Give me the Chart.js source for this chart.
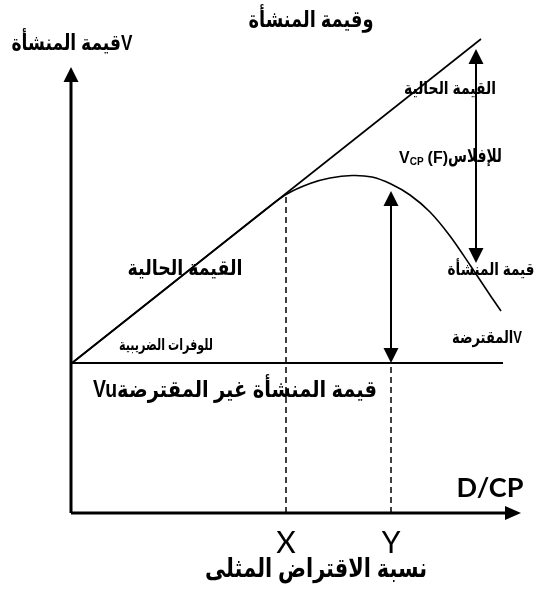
<!DOCTYPE html>
<html><head><meta charset="utf-8">
<script src="https://cdn.jsdelivr.net/npm/chart.js@4"></script>
<style>html,body{margin:0;padding:0;background:#fff}canvas{display:block}</style>
</head><body>
<canvas id="c" width="541" height="593"></canvas>
<script>
// ---- data (abstract units: x = D/CP, y = firm value) ----
const curveDCP   = [0.2, 20, 38.8, 43, 47.8, 51.8, 56.2, 60.2, 64, 67.8, 71.8, 75.8, 79.8, 83.8, 86];
const curveValue = [30, 45.7, 60.6, 63.7, 65.9, 67.0, 67.5, 67.2, 65.8, 63.6, 60.2, 55.4, 49.6, 43.6, 40.4];
const taxLineDCP   = [0.2, 82];
const taxLineValue = [30, 94.8];
const unleveredDCP   = [0.2, 86.4];
const unleveredValue = [30, 30];
const markerLabels = ['X', 'Y'];
const markerDCP    = [43, 64];
const markerTop    = [63.6, 30];
const distressArrowDCP   = 81;
const distressArrowRange = [92.8, 50];
const optimumArrowDCP    = 64;
const optimumArrowRange  = [64.4, 30];
const axisEndDCP   = 90;
const axisEndValue = 89.2;

const pts = (xs, ys) => xs.map((x, i) => ({x, y: ys[i]}));
const line = (data, extra) => Object.assign({data, showLine: true, borderColor: '#000', borderWidth: 1.6, pointRadius: 0, fill: false}, extra || {});

const datasets = [
  line([{x:0,y:0},{x:0,y:axisEndValue-2}], {borderWidth: 3}),
  line([{x:0,y:0},{x:axisEndDCP-2,y:0}], {borderWidth: 3}),
  line(pts(unleveredDCP, unleveredValue), {borderWidth: 1.8}),
  line(pts(taxLineDCP, taxLineValue), {borderWidth: 1.6}),
  line(pts(curveDCP, curveValue), {borderWidth: 1.6, tension: 0.3}),
];
markerDCP.forEach((x, i) => datasets.push(line([{x, y: 0}, {x, y: markerTop[i]}], {borderWidth: 1.5, borderDash: [6, 4]})));
datasets.push(line([{x: distressArrowDCP, y: distressArrowRange[0]-2}, {x: distressArrowDCP, y: distressArrowRange[1]+2}], {borderWidth: 2}));
datasets.push(line([{x: optimumArrowDCP, y: optimumArrowRange[0]-2}, {x: optimumArrowDCP, y: optimumArrowRange[1]+2}], {borderWidth: 2}));

const AR = "'Liberation Sans','DejaVu Sans',sans-serif";

function head(ctx, x, y, dir, len, hw) {
  ctx.beginPath();
  if (dir === 'up') { ctx.moveTo(x, y); ctx.lineTo(x - hw, y + len); ctx.lineTo(x + hw, y + len); }
  else if (dir === 'down') { ctx.moveTo(x, y); ctx.lineTo(x - hw, y - len); ctx.lineTo(x + hw, y - len); }
  else { ctx.moveTo(x, y); ctx.lineTo(x - len, y - hw); ctx.lineTo(x - len, y + hw); }
  ctx.closePath(); ctx.fill();
}
// draw text at given font size, squeezed horizontally to a target width
function fitText(ctx, str, cx, cy, width, size) {
  ctx.save();
  ctx.font = 'bold ' + size + 'px ' + AR;
  const w = ctx.measureText(str).width;
  ctx.textAlign = 'center'; ctx.textBaseline = 'middle';
  ctx.translate(cx, cy);
  ctx.scale(width / w, 1);
  ctx.fillText(str, 0, 0);
  ctx.restore();
}

const deco = {
  id: 'deco',
  afterDatasetsDraw(chart) {
    const {ctx, scales: {x, y}} = chart;
    ctx.save();
    ctx.fillStyle = '#000';
    head(ctx, x.getPixelForValue(0), y.getPixelForValue(axisEndValue), 'up', 15, 7.5);
    head(ctx, x.getPixelForValue(axisEndDCP), y.getPixelForValue(0), 'right', 16, 7);
    [[distressArrowDCP, distressArrowRange], [optimumArrowDCP, optimumArrowRange]].forEach(([dx, r]) => {
      const px = x.getPixelForValue(dx);
      head(ctx, px, y.getPixelForValue(r[0]), 'up', 15, 7.5);
      head(ctx, px, y.getPixelForValue(r[1]), 'down', 15, 7.5);
    });
    ctx.direction = 'ltr';
    fitText(ctx, 'وقيمة المنشأة', 311, 21, 125, 23);
    fitText(ctx, 'قيمة المنشأةV', 72, 44, 121, 22);
    fitText(ctx, 'القيمة الحالية', 450, 89, 92, 17);
    fitText(ctx, 'قيمة المنشأة', 491, 270, 87, 17);
    fitText(ctx, 'المقترضةV', 487, 338, 70, 17);
    fitText(ctx, 'القيمة الحالية', 185, 269, 115, 21);
    fitText(ctx, 'للوفرات الضريبية', 166, 346, 94, 16);
    fitText(ctx, 'Vuقيمة المنشأة غير المقترضة', 235, 391, 284, 23);
    fitText(ctx, 'نسبة الاقتراض المثلى', 316, 570, 222, 26);
    // V_CP (F) للإفلاس
    ctx.textAlign = 'left'; ctx.textBaseline = 'alphabetic';
    let cx = 399; const base = 163;
    ctx.font = 'bold 16px ' + AR; ctx.fillText('V', cx, base); cx += ctx.measureText('V').width;
    ctx.font = 'bold 10px ' + AR; ctx.fillText('CP', cx, base + 2); cx += ctx.measureText('CP').width + 4;
    ctx.font = 'bold 16px ' + AR; ctx.fillText('(F)', cx, base); cx += ctx.measureText('(F)').width;
    fitText(ctx, 'للإفلاس', cx + 27, base - 6, 54, 19);
    ctx.textAlign = 'center'; ctx.textBaseline = 'alphabetic';
    ctx.font = 'bold 27px Lato, sans-serif';
    ctx.fillText('D/CP', 490, 497);
    ctx.font = '30px Lato, sans-serif';
    markerLabels.forEach((t, i) => ctx.fillText(t, x.getPixelForValue(markerDCP[i]), 553));
    ctx.restore();
  }
};

new Chart(document.getElementById('c'), {
  type: 'scatter',
  data: {datasets},
  options: {
    responsive: false, animation: false, devicePixelRatio: 1,
    layout: {padding: 0},
    plugins: {legend: {display: false}, tooltip: {enabled: false}},
    scales: {
      x: {type: 'linear', min: -14.2, max: 94, display: false},
      y: {type: 'linear', min: -16, max: 102.6, display: false}
    }
  },
  plugins: [deco]
});
</script>
</body></html>
